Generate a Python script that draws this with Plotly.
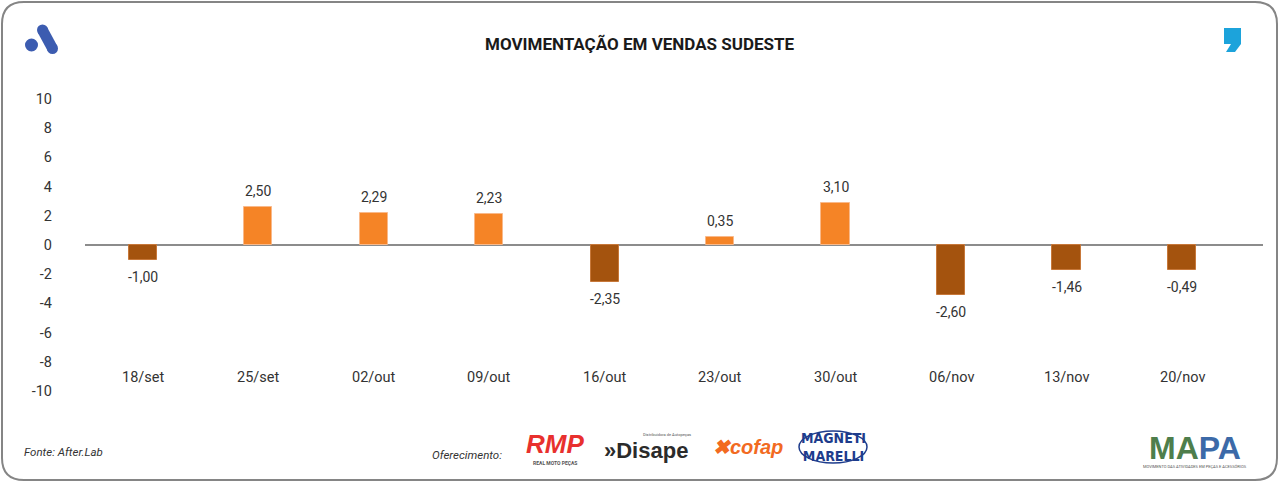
import plotly.graph_objects as go

# dados
semanas = ["18/set", "25/set", "02/out", "09/out", "16/out",
           "23/out", "30/out", "06/nov", "13/nov", "20/nov"]
variacao = [-1.0, 2.6, 2.2, 2.1, -2.55, 0.55, 2.85, -3.45, -1.7, -1.7]
rotulos = ["-1,00", "2,50", "2,29", "2,23", "-2,35",
           "0,35", "3,10", "-2,60", "-1,46", "-0,49"]
ticks_y = [-10, -8, -6, -4, -2, 0, 2, 4, 6, 8, 10]
ticks_y_txt = ["-10", "-8", "-6", "-4", "-2", "0", "2", "4", "6", "8", "10"]

LARGURA, ALTURA = 1280, 483
ML, MR, MT, MB = 85, 17, 99, 92
LARANJA = "#F58426"
MARROM = "#A4530E"
FONTE = "Roboto"
Y_ROTULO_X = -9.1  # altura dos nomes das semanas (posição "baixa" do Excel)


def px(x):
    # pixel horizontal -> coordenada paper
    return (x - ML) / (LARGURA - ML - MR)


def py(y):
    # pixel vertical -> coordenada paper
    return (ALTURA - MB - y) / (ALTURA - MT - MB)


cores = [LARANJA if v >= 0 else MARROM for v in variacao]
bordas = ["#F9B98A" if v >= 0 else "#C7783A" for v in variacao]

fig = go.Figure()
fig.add_trace(go.Bar(
    x=semanas, y=variacao, width=0.246,
    marker=dict(color=cores, line=dict(color=bordas, width=1)),
    hoverinfo="skip", showlegend=False,
))

# rótulos de valor e nomes das semanas
for s, v, r in zip(semanas, variacao, rotulos):
    fig.add_annotation(
        x=s, y=v, text=r, showarrow=False,
        yshift=16 if v >= 0 else -17,
        font=dict(family=FONTE, size=14, color="#333333"),
    )
    fig.add_annotation(
        x=s, y=Y_ROTULO_X, text=s, showarrow=False,
        font=dict(family=FONTE, size=14.5, color="#333333"),
    )

# moldura arredondada
x0, x1, y0, y1, rr = px(2), px(1277), py(2), py(480), 22
rx = rr / (LARGURA - ML - MR)
ry = rr / (ALTURA - MT - MB)
moldura = (f"M {x0 + rx},{y0} L {x1 - rx},{y0} Q {x1},{y0} {x1},{y0 - ry} "
           f"L {x1},{y1 + ry} Q {x1},{y1} {x1 - rx},{y1} "
           f"L {x0 + rx},{y1} Q {x0},{y1} {x0},{y1 + ry} "
           f"L {x0},{y0 - ry} Q {x0},{y0} {x0 + rx},{y0} Z")
shapes = [dict(type="path", xref="paper", yref="paper", path=moldura,
               line=dict(color="#858585", width=2), fillcolor="rgba(0,0,0,0)")]

# logo "A" (canto superior esquerdo)
azul = "#3C5CB0"
shapes.append(dict(type="circle", xref="paper", yref="paper",
                   x0=px(25), x1=px(38), y0=py(38.5), y1=py(51.5),
                   fillcolor=azul, line_width=0))
for cx, cy in [(42.5, 30), (52.5, 48.5)]:
    shapes.append(dict(type="circle", xref="paper", yref="paper",
                       x0=px(cx - 5.5), x1=px(cx + 5.5), y0=py(cy - 5.5), y1=py(cy + 5.5),
                       fillcolor=azul, line_width=0))
pill = [(37.7, 32.6), (47.3, 27.4), (57.3, 45.9), (47.7, 51.1)]
shapes.append(dict(type="path", xref="paper", yref="paper",
                   path="M " + " L ".join(f"{px(a)},{py(b)}" for a, b in pill) + " Z",
                   fillcolor=azul, line_width=0))

# vírgula azul (canto superior direito)
virgula = [(1224, 28), (1241, 28), (1241, 44), (1235, 52), (1226, 52), (1231, 44), (1224, 44)]
shapes.append(dict(type="path", xref="paper", yref="paper",
                   path="M " + " L ".join(f"{px(a)},{py(b)}" for a, b in virgula) + " Z",
                   fillcolor="#1CA3DB", line_width=0))

# oval do logo Magneti Marelli
shapes.append(dict(type="circle", xref="paper", yref="paper",
                   x0=px(799), x1=px(867), y0=py(431), y1=py(463),
                   line=dict(color="#1E3C8C", width=1.5), fillcolor="rgba(0,0,0,0)"))

anots = [
    dict(x=px(640), y=py(44), text="<b>MOVIMENTAÇÃO EM VENDAS SUDESTE</b>",
         font=dict(family=FONTE, size=17, color="#1a1a1a")),
    dict(x=px(22), y=py(452), text="<i>Fonte: After.Lab</i>", xanchor="left",
         font=dict(family=FONTE, size=11.5, color="#333333")),
    dict(x=px(430), y=py(455), text="<i>Oferecimento:</i>", xanchor="left",
         font=dict(family=FONTE, size=11.5, color="#333333")),
    # logos dos patrocinadores (em texto)
    dict(x=px(555), y=py(444), text="<b><i>RMP</i></b>",
         font=dict(family="Liberation Sans", size=26, color="#E8302E")),
    dict(x=px(555), y=py(463), text="<b>REAL MOTO PEÇAS</b>",
         font=dict(family=FONTE, size=5, color="#555555")),
    dict(x=px(646), y=py(450), text="<b>»Disape</b>",
         font=dict(family="Liberation Sans", size=22, color="#2b2b2b")),
    dict(x=px(667), y=py(434), text="Distribuidora de Autopeças",
         font=dict(family=FONTE, size=4, color="#555555")),
    dict(x=px(748), y=py(447), text="<b><i>✖cofap</i></b>",
         font=dict(family="Liberation Sans", size=20, color="#F26A21")),
    dict(x=px(833), y=py(447), text="<b>MAGNETI<br>MARELLI</b>",
         font=dict(family="DejaVu Sans Condensed, Liberation Sans Narrow, Liberation Sans",
                   size=14, color="#1E3C8C")),
    dict(x=px(1195), y=py(448), text="<b><span style='color:#4E7E4C'>MA</span>"
                                     "<span style='color:#3C6AA8'>PA</span></b>",
         font=dict(family="Liberation Sans", size=32, color="#4E7E4C")),
    dict(x=px(1195), y=py(466), text="MOVIMENTO DAS ATIVIDADES EM PEÇAS E ACESSÓRIOS",
         font=dict(family=FONTE, size=4, color="#555555")),
]
for a in anots:
    a.setdefault("xanchor", "center")
    a.setdefault("yanchor", "middle")
    fig.add_annotation(xref="paper", yref="paper", showarrow=False, **a)

fig.update_layout(
    width=LARGURA, height=ALTURA,
    margin=dict(l=ML, r=MR, t=MT, b=MB),
    plot_bgcolor="white", paper_bgcolor="white",
    shapes=shapes,
    bargap=0,
    xaxis=dict(
        range=[-0.5, 9.7], showgrid=False, showline=False, zeroline=False,
        ticks="", showticklabels=False,
    ),
    yaxis=dict(
        range=[-10, 10], tickvals=ticks_y, ticktext=ticks_y_txt,
        showgrid=False, showline=False,
        zeroline=True, zerolinecolor="#8C8C8C", zerolinewidth=1.5,
        ticks="", ticklabelstandoff=32,
        tickfont=dict(family=FONTE, size=14.5, color="#333333"),
    ),
)

fig.write_html("out.html", config={"displayModeBar": False},
               post_script="document.body.style.margin='0';")
